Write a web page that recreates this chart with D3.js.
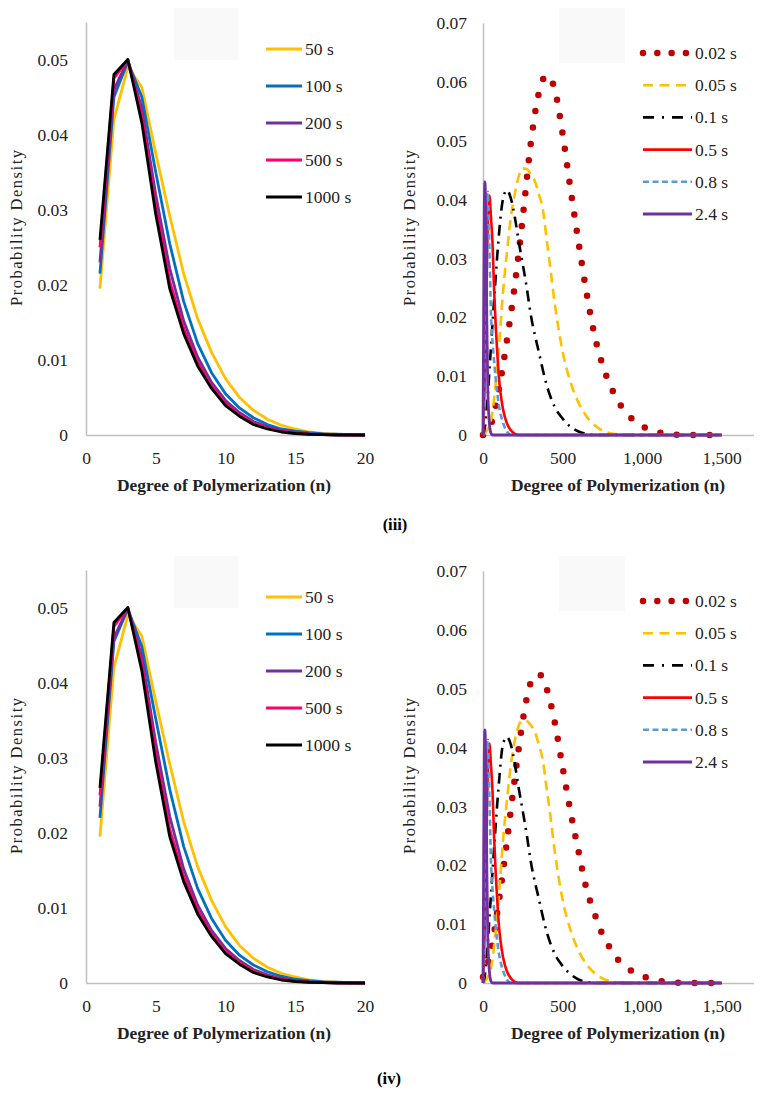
<!DOCTYPE html>
<html><head><meta charset="utf-8">
<script src="https://cdn.jsdelivr.net/npm/d3@7"></script>
<style>body{margin:0;background:#fff}</style>
</head><body>
<svg id="c" width="772" height="1102" xmlns="http://www.w3.org/2000/svg"></svg>
<script>
// ---------- DATA ----------
// Left panels: degree of polymerization n = 1..20
const nLeft = [1,2,3,4,5,6,7,8,9,10,11,12,13,14,15,16,17,18,19,20];
const leftLabels = ["50 s","100 s","200 s","500 s","1000 s"];
const leftColors = ["#FFC000","#0070C0","#7030A0","#FF0066","#000000"];

const s50_iii   = [0.0195,0.042,0.049,0.0463,0.0375,0.0292,0.0215,0.0155,0.011,0.0075,0.005,0.0033,0.0021,0.0013,0.0008,0.0004,0.0002,0.0001,0.00005,0];
const s100_iii  = [0.0215,0.045,0.0497,0.045,0.035,0.0255,0.0178,0.0122,0.0083,0.0055,0.0036,0.0023,0.0014,0.0008,0.0005,0.0003,0.00015,0.0001,0.00005,0];
const s200_iii  = [0.023,0.046,0.0499,0.0435,0.032,0.0222,0.0152,0.0104,0.007,0.0046,0.003,0.0018,0.0011,0.0006,0.0003,0.00015,0.0001,0.00005,0,0];
const s500_iii  = [0.025,0.0475,0.05,0.0425,0.0305,0.0205,0.0142,0.0097,0.0065,0.0042,0.0027,0.0016,0.0009,0.0005,0.00025,0.0001,0.00005,0,0,0];
const s1000_iii = [0.026,0.048,0.05,0.0416,0.0294,0.0195,0.0135,0.0092,0.0062,0.0039,0.0025,0.0014,0.0008,0.0004,0.0002,0.0001,0.00005,0,0,0];

const s50_iv   = [0.0195,0.042,0.049,0.0462,0.0375,0.0292,0.0215,0.0155,0.011,0.0075,0.005,0.0033,0.0021,0.0013,0.0008,0.0004,0.0002,0.0001,0.00005,0];
const s100_iv  = [0.022,0.0455,0.0498,0.0448,0.0352,0.0258,0.0182,0.0126,0.0086,0.0057,0.0037,0.0024,0.0015,0.0009,0.0005,0.0003,0.00015,0.0001,0.00005,0];
const s200_iv  = [0.0235,0.046,0.0499,0.0435,0.032,0.0222,0.0152,0.0104,0.007,0.0046,0.003,0.0018,0.0011,0.0006,0.0003,0.00015,0.0001,0.00005,0,0];
const s500_iv  = [0.025,0.0475,0.05,0.0425,0.0305,0.0205,0.0142,0.0097,0.0065,0.0042,0.0027,0.0016,0.0009,0.0005,0.00025,0.0001,0.00005,0,0,0];
const s1000_iv = [0.026,0.048,0.05,0.0416,0.0294,0.0195,0.0135,0.0092,0.0062,0.0039,0.0025,0.0014,0.0008,0.0004,0.0002,0.0001,0.00005,0,0,0];

const leftXTicks = [0,5,10,15,20];
const leftYTicks = [0,0.01,0.02,0.03,0.04,0.05];
const leftYTickLabels = ["0","0.01","0.02","0.03","0.04","0.05"];

// Right panels
const rightLabels = ["0.02 s","0.05 s","0.1 s","0.5 s","0.8 s","2.4 s"];
const rightColors = ["#C00000","#FFC000","#000000","#FF0000","#5B9BD5","#7030A0"];

const n002 = [0,50,100,150,200,250,300,350,400,450,500,550,600,650,700,750,800,850,900,950,1000,1050,1100,1150,1200,1250,1300,1350,1400,1450,1500];
const v002_iii = [0,0.0018,0.0078,0.016,0.0255,0.037,0.0495,0.058,0.0611,0.0588,0.0512,0.0418,0.0328,0.0243,0.0171,0.012,0.0084,0.0057,0.0038,0.0024,0.0015,0.0009,0.0005,0.0002,0.0001,0,0,0,0,0,0];
const v002_iv  = [0.001,0.0055,0.014,0.024,0.0348,0.0446,0.051,0.0525,0.05,0.0444,0.0367,0.0291,0.0224,0.016,0.0119,0.0083,0.0059,0.0039,0.0027,0.0018,0.0012,0.0007,0.0004,0.0002,0.0001,0,0,0,0,0,0];

const n005 = [0,25,50,75,100,125,150,175,200,225,250,275,300,325,350,375,400,425,450,475,500,550,600,650,700,750,800,850,900,1500];
const v005_iii = [0,0.0008,0.0025,0.0075,0.015,0.024,0.031,0.037,0.041,0.044,0.0453,0.0452,0.0443,0.0432,0.041,0.0385,0.0333,0.028,0.0225,0.018,0.0142,0.009,0.0055,0.0032,0.0017,0.0008,0.0003,0.0001,0,0];
const v005_iv  = [0,0.0008,0.0025,0.0075,0.015,0.024,0.031,0.037,0.0412,0.0438,0.0446,0.0445,0.0438,0.0428,0.0405,0.038,0.033,0.028,0.0225,0.018,0.0142,0.009,0.0055,0.0032,0.0017,0.0008,0.0003,0.0001,0,0];

const n01 = [0,10,25,50,75,100,125,150,175,200,225,250,275,300,350,400,450,500,550,600,650,700,1500];
const v01_iii = [0,0.001,0.005,0.015,0.025,0.034,0.04,0.0416,0.0402,0.037,0.0328,0.029,0.025,0.0205,0.0142,0.0085,0.0048,0.0028,0.0014,0.0006,0.0002,0,0];
const v01_iv  = [0,0.001,0.005,0.015,0.025,0.034,0.0405,0.0418,0.0405,0.0372,0.033,0.0292,0.0252,0.0207,0.0144,0.0087,0.005,0.0029,0.0015,0.0006,0.0002,0,0];

const n05 = [0,10,20,30,40,50,60,70,80,90,100,110,125,150,175,200,225,1500];
const v05_iii = [0,0.008,0.022,0.036,0.0407,0.037,0.0325,0.0245,0.0185,0.0138,0.0098,0.0072,0.0045,0.002,0.0008,0.0002,0,0];
const v05_iv  = [0,0.008,0.022,0.036,0.0407,0.037,0.0325,0.0245,0.0185,0.0138,0.0098,0.0072,0.0045,0.002,0.0008,0.0002,0,0];

const n08 = [0,8,16,24,30,40,50,60,70,80,90,100,125,150,175,1500];
const v08_iii = [0,0.012,0.03,0.04,0.0413,0.032,0.0207,0.0158,0.0125,0.0095,0.007,0.005,0.0022,0.0006,0,0];
const v08_iv  = [0,0.012,0.03,0.04,0.0413,0.032,0.0207,0.0158,0.0125,0.0095,0.007,0.005,0.0022,0.0006,0,0];

const n24 = [0,4,8,12,18,24,30,40,50,60,1500];
const v24_iii = [0,0.02,0.038,0.043,0.036,0.02,0.008,0.002,0.0003,0,0];
const v24_iv  = [0,0.02,0.038,0.043,0.036,0.02,0.008,0.002,0.0003,0,0];

const rightXTicks = [0,500,1000,1500];
const rightXTickLabels = ["0","500","1,000","1,500"];
const rightYTicks = [0,0.01,0.02,0.03,0.04,0.05,0.06,0.07];
const rightYTickLabels = ["0","0.01","0.02","0.03","0.04","0.05","0.06","0.07"];

const captions = ["(iii)","(iv)"];

// ---------- DRAWING ----------
const svg = d3.select("#c");
const FONT = "'Liberation Serif','Tinos','Times New Roman',serif";
const AXIS_GRAY = "#BFBFBF";
const TEXT_COL = "#222222";
const FS = 17.5;
const CAP_FS = 16.5;

function styleAxis(g){
  g.attr("font-family", null).attr("font-size", null);
  g.select(".domain").attr("stroke", AXIS_GRAY).attr("stroke-width", 1.5);
  g.selectAll(".tick line").remove();
  g.selectAll(".tick text").attr("font-family", FONT).attr("font-size", FS).attr("fill", TEXT_COL);
}

function axisTitles(g, xc, xTitleY, yTitleX, yc){
  g.append("text").attr("x", xc).attr("y", xTitleY)
    .attr("text-anchor","middle").attr("font-family",FONT).attr("font-size",16.5)
    .attr("font-weight","bold").attr("fill",TEXT_COL)
    .attr("textLength",214).attr("lengthAdjust","spacingAndGlyphs")
    .text("Degree of Polymerization  (n)");
  g.append("text").attr("transform",`translate(${yTitleX},${yc}) rotate(-90)`)
    .attr("text-anchor","middle").attr("font-family",FONT).attr("font-size",16.5)
    .attr("fill",TEXT_COL).attr("textLength",156).attr("lengthAdjust","spacing")
    .text("Probability Density");
}

function leftPanel(off, seriesList){
  const g = svg.append("g").attr("transform",`translate(0,${off})`);
  const x = d3.scaleLinear().domain([0,20]).range([86,365]);
  const y = d3.scaleLinear().domain([0,0.055]).range([435,22]);
  g.append("rect").attr("x",174).attr("y",8).attr("width",64).attr("height",52).attr("fill","#F9F9F9");
  const gy = g.append("g").attr("transform","translate(86,0)")
    .call(d3.axisLeft(y).tickValues(leftYTicks).tickSizeOuter(0).tickSizeInner(0).tickPadding(18)
      .tickFormat((d,i)=>leftYTickLabels[i]));
  const gx = g.append("g").attr("transform","translate(0,435)")
    .call(d3.axisBottom(x).tickValues(leftXTicks).tickSizeOuter(0).tickSizeInner(0).tickPadding(17));
  styleAxis(gy); styleAxis(gx);
  const line = d3.line().x((d,i)=>x(nLeft[i])).y(d=>y(d));
  seriesList.forEach((s,k)=>{
    g.append("path").datum(s).attr("d",line).attr("fill","none")
      .attr("stroke",leftColors[k]).attr("stroke-width",2.8).attr("stroke-linejoin","round");
  });
  leftLabels.forEach((lab,k)=>{
    const yy = 49 + k*37;
    g.append("line").attr("x1",266).attr("x2",302).attr("y1",yy).attr("y2",yy)
      .attr("stroke",leftColors[k]).attr("stroke-width",2.8);
    g.append("text").attr("x",305).attr("y",yy).attr("dy","0.34em").attr("font-family",FONT).attr("font-size",FS)
      .attr("fill",TEXT_COL).attr("xml:space","preserve").text(lab);
  });
  axisTitles(g, 224, 491, 22, 228);
}

const rightStyles = [
  {w:6.5, dash:"0,16.5", cap:"round", legDash:"0,14.3"},
  {w:2.6, dash:"10,6", cap:"butt", legDash:"10,6.5"},
  {w:2.6, dash:"11,6,2,6", cap:"butt", legDash:"11,8,2,8"},
  {w:2.6, dash:null, cap:"butt", legDash:null},
  {w:2.6, dash:"6,3.5", cap:"butt", legDash:"6,3.5"},
  {w:2.8, dash:null, cap:"butt", legDash:null}
];

function rightPanel(off, seriesList){
  const g = svg.append("g").attr("transform",`translate(0,${off})`);
  const x = d3.scaleLinear().domain([0,1700]).range([483,753.5]);
  const y = d3.scaleLinear().domain([0,0.07]).range([435,23]);
  g.append("rect").attr("x",559).attr("y",8).attr("width",66).attr("height",55).attr("fill","#F9F9F9");
  const gy = g.append("g").attr("transform","translate(483,0)")
    .call(d3.axisLeft(y).tickValues(rightYTicks).tickSizeOuter(0).tickSizeInner(0).tickPadding(16)
      .tickFormat((d,i)=>rightYTickLabels[i]));
  const gx = g.append("g").attr("transform","translate(0,435)")
    .call(d3.axisBottom(x).tickValues(rightXTicks).tickSizeOuter(0).tickSizeInner(0).tickPadding(17)
      .tickFormat((d,i)=>rightXTickLabels[i]));
  styleAxis(gy); styleAxis(gx);
  seriesList.forEach((s,k)=>{
    const xs = s[0], ys = s[1];
    const line = d3.line().curve(d3.curveMonotoneX).x((d,i)=>x(xs[i])).y(d=>y(d));
    const st = rightStyles[k];
    const p = g.append("path").datum(ys).attr("d",line).attr("fill","none")
      .attr("stroke",rightColors[k]).attr("stroke-width",st.w)
      .attr("stroke-linecap",st.cap).attr("stroke-linejoin","round");
    if(st.dash) p.attr("stroke-dasharray",st.dash);
  });
  rightLabels.forEach((lab,k)=>{
    const yy = 53 + k*32.2;
    const st = rightStyles[k];
    const l = g.append("line").attr("x1",643).attr("x2", k===0?687:692).attr("y1",yy).attr("y2",yy)
      .attr("stroke",rightColors[k]).attr("stroke-width",st.w).attr("stroke-linecap",st.cap);
    if(st.legDash) l.attr("stroke-dasharray",st.legDash);
    g.append("text").attr("x",695).attr("y",yy).attr("dy","0.34em").attr("font-family",FONT).attr("font-size",FS)
      .attr("fill",TEXT_COL).attr("xml:space","preserve").text(lab);
  });
  axisTitles(g, 618, 491, 415, 228);
}

leftPanel(0, [s50_iii,s100_iii,s200_iii,s500_iii,s1000_iii]);
rightPanel(0, [[n002,v002_iii],[n005,v005_iii],[n01,v01_iii],[n05,v05_iii],[n08,v08_iii],[n24,v24_iii]]);
leftPanel(548, [s50_iv,s100_iv,s200_iv,s500_iv,s1000_iv]);
rightPanel(548, [[n002,v002_iv],[n005,v005_iv],[n01,v01_iv],[n05,v05_iv],[n08,v08_iv],[n24,v24_iv]]);

svg.append("text").attr("x",395).attr("y",530).attr("text-anchor","middle")
  .attr("font-family",FONT).attr("font-size",CAP_FS).attr("font-weight","bold").attr("fill","#000").text(captions[0]);
svg.append("text").attr("x",389).attr("y",1084).attr("text-anchor","middle")
  .attr("font-family",FONT).attr("font-size",CAP_FS).attr("font-weight","bold").attr("fill","#000").text(captions[1]);
</script>
</body></html>
